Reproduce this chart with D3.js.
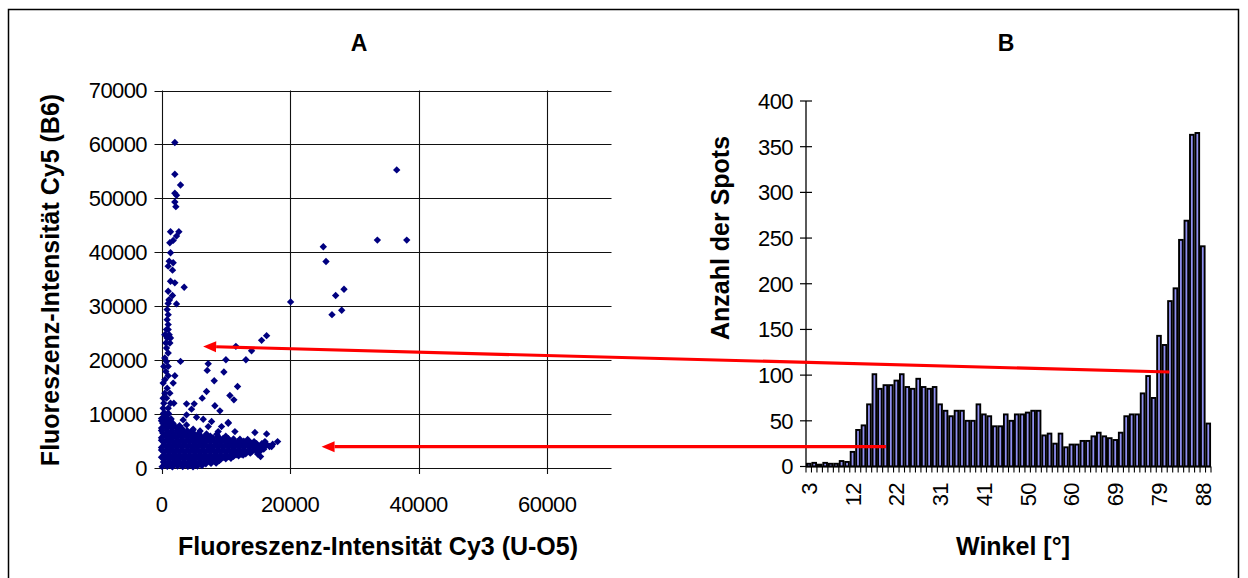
<!DOCTYPE html>
<html>
<head>
<meta charset="utf-8">
<script src="https://cdn.jsdelivr.net/npm/d3@7"></script>
<style>
  body { margin: 0; background: #fff; }
  svg { display: block; }
  text { font-family: "Liberation Sans", Arial, sans-serif; fill: #000; }
</style>
</head>
<body>
<div id="chart"></div>
<script>
// ---- panel A: scatter, [Cy3 (U-O5), Cy5 (B6)] ----
const clusterPoints = [
  [100, 250], [900, 300], [1700, 200], [2500, 350], [3300, 250], [4100, 300], [4900, 200], [5600, 350], [6300, 450],
  [300, 1100], [1100, 1200], [1900, 1050], [2700, 1150], [3500, 1100], [4300, 1200], [5100, 1050], [5900, 1150], [6700, 1100], [7500, 1200], [8300, 1300], [9000, 1400],
  [0, 2000], [800, 2100], [1600, 1950], [2400, 2050], [3200, 2000], [4000, 2100], [4800, 1950], [5600, 2050], [6400, 2000], [7200, 2100], [8000, 1950], [8800, 2050], [9600, 2000], [10400, 2100], [11200, 2150], [12000, 2250], [12700, 2400],
  [400, 2900], [1200, 3000], [2000, 2850], [2800, 2950], [3600, 2900], [4400, 3000], [5200, 2850], [6000, 2950], [6800, 2900], [7600, 3000], [8400, 2850], [9200, 2950], [10000, 2900], [10800, 3000], [11600, 2850], [12400, 2950], [13200, 2950], [14000, 3000], [14800, 3100], [15400, 3200],
  [0, 3800], [800, 3900], [1600, 3750], [2400, 3850], [3200, 3800], [4000, 3900], [4800, 3750], [5600, 3850], [6400, 3800], [7200, 3900], [8000, 3750], [8800, 3850], [9600, 3800], [10400, 3900], [11200, 3750], [12000, 3850], [12800, 3800], [13600, 3900], [14400, 3800], [15200, 3850], [16000, 3900], [16800, 4000],
  [400, 4700], [1200, 4800], [2000, 4650], [2800, 4750], [3600, 4700], [4400, 4800], [5200, 4650], [6000, 4750], [6800, 4700], [7600, 4800], [8400, 4650], [9200, 4750], [10000, 4700], [10800, 4800], [11600, 4650], [12400, 4700], [13200, 4650], [14000, 4600], [14800, 4500], [15600, 4500],
  [0, 5600], [800, 5700], [1600, 5550], [2400, 5650], [3200, 5600], [4000, 5700], [4800, 5550], [5600, 5650], [6400, 5600], [7200, 5700], [8000, 5550], [8800, 5650], [9600, 5500], [10400, 5450], [11200, 5400], [12200, 5350], [13400, 5300],
  [200, 6500], [1000, 6600], [1800, 6450], [2600, 6550], [3400, 6500], [4200, 6600], [5000, 6450], [5800, 6400], [7000, 6300], [8600, 6250],
  [0, 7400], [800, 7500], [1600, 7350], [2400, 7450], [3200, 7300],
  [200, 8300], [1000, 8400], [1800, 8250],
  [0, 9200], [800, 9300], [1500, 9100],
  [300, 10100], [1100, 10000]
];
const clusterFill = [
  [500, 750], [1300, 700], [2100, 800], [2900, 700], [3700, 750], [4500, 800], [5300, 700], [6100, 750], [6900, 800], [7700, 850], [8500, 900],
  [400, 1600], [1200, 1650], [2000, 1550], [2800, 1600], [3600, 1650], [4400, 1550], [5200, 1600], [6000, 1650], [6800, 1550], [7600, 1600], [8400, 1650], [9200, 1600], [10000, 1700], [10800, 1800],
  [400, 2450], [1200, 2500], [2000, 2400], [2800, 2450], [3600, 2500], [4400, 2400], [5200, 2450], [6000, 2500], [6800, 2400], [7600, 2450], [8400, 2500], [9200, 2400], [10000, 2450], [10800, 2500], [11600, 2450], [12400, 2550], [13100, 2650], [13800, 2750],
  [0, 3350], [800, 3400], [1600, 3300], [2400, 3350], [3200, 3400], [4000, 3300], [4800, 3350], [5600, 3400], [6400, 3300], [7200, 3350], [8000, 3400], [8800, 3300], [9600, 3350], [10400, 3400], [11200, 3300], [12000, 3350], [12800, 3400], [13600, 3350], [14400, 3400], [15200, 3450], [15900, 3500],
  [400, 4250], [1200, 4300], [2000, 4200], [2800, 4250], [3600, 4300], [4400, 4200], [5200, 4250], [6000, 4300], [6800, 4200], [7600, 4250], [8400, 4300], [9200, 4200], [10000, 4250], [10800, 4300], [11600, 4200], [12400, 4250], [13200, 4300], [14000, 4200], [14800, 4250], [15600, 4250], [16400, 4300], [17300, 4400],
  [0, 5150], [800, 5200], [1600, 5100], [2400, 5150], [3200, 5200], [4000, 5100], [4800, 5150], [5600, 5200], [6400, 5100], [7200, 5150], [8000, 5200], [8800, 5100], [9600, 5150], [10400, 5100], [11200, 5050], [12000, 5000], [12800, 4950], [13600, 4950], [14400, 4900],
  [400, 6050], [1200, 6100], [2000, 6000], [2800, 6050], [3600, 6100], [4400, 6000], [5200, 6050], [6000, 6000], [6800, 5950], [7600, 5900], [8800, 5850], [10000, 5900],
  [0, 6950], [800, 7000], [1600, 6900], [2400, 6950], [3200, 7000], [4000, 6900], [4800, 6950], [6000, 6850],
  [400, 7850], [1200, 7900], [2000, 7800], [2800, 7850],
  [0, 8750], [700, 8800], [1400, 8700],
  [600, 9650]
];
const edgePoints = [
  [3893, 7990], [4930, 7190], [7270, 7680], [8820, 6750], [10380, 8430], [11420, 6750],
  [14530, 6570], [16350, 6320], [16090, 4900], [18060, 4900], [17130, 3970], [15830, 3780],
  [14950, 2600], [15410, 2110], [3370, 8920], [6490, 9050], [7790, 8610], [9340, 7680]
];
const streakPoints = [
  [519, 10160], [1038, 10160], [260, 11090], [1038, 11090], [363, 12020], [1401, 12020], [1920, 12020],
  [260, 12950], [779, 12950], [519, 13880], [1298, 13880], [882, 14810], [260, 15740], [1817, 15740],
  [519, 16360], [2076, 17100], [1038, 17100], [675, 17910], [363, 18840], [1038, 18840], [779, 19770],
  [519, 20390], [1038, 21320], [779, 22250], [675, 23180], [1298, 23180], [882, 24110], [1401, 24110],
  [519, 24730], [1194, 24730], [779, 25660], [1038, 25660], [1038, 26590], [882, 27510], [1038, 28440],
  [882, 29370], [1038, 30490], [1194, 31230],
  [2335, 30430], [1194, 31110], [1713, 31980], [1038, 32780], [3529, 33530], [2076, 34330], [1401, 34640],
  [1713, 36690], [1038, 37430], [1817, 38050], [1194, 38360], [1401, 39910], [1297, 41770], [1817, 42200],
  [2335, 43000], [1401, 43810], [2700, 43810], [2232, 48460], [2076, 49330], [2335, 50560], [2076, 50940],
  [2958, 52490], [2076, 54470], [2076, 60360]
];
const outlierPoints = [
  [20085, 30800], [25170, 41020], [25590, 38300], [27090, 31980], [28390, 33150], [26520, 28440],
  [28030, 29250], [33580, 42260], [36590, 55280], [38150, 42260],
  [16350, 24540], [15570, 23670], [11570, 22560], [14010, 21750], [10020, 20080], [13130, 20080],
  [2958, 19770], [7266, 19330], [7110, 18100], [9705, 17790], [8200, 16170], [11830, 15120],
  [7006, 14190], [6332, 12950], [10640, 13450], [11260, 12640], [3893, 11900], [5086, 11900],
  [8304, 11530], [9083, 10600], [4671, 10910], [3893, 9853], [5449, 9419], [10380, 8300]
];
const scatterTicks = [0, 10000, 20000, 30000, 40000, 50000, 60000, 70000];
const scatterXTicks = [0, 20000, 40000, 60000];

// ---- panel B: histogram of angles ----
const spotCounts = [
  3, 4, 2, 4, 3, 3, 6, 5,
  16, 40, 45, 68, 101, 85, 89, 89, 94, 101,
  87, 85, 96, 87, 85, 87, 68, 61, 55, 61,
  61, 50, 50, 68, 57, 55, 44, 44, 57, 50,
  57, 57, 59, 61, 61, 34, 36, 25, 36, 21,
  24, 24, 28, 28, 33, 37, 33, 31, 29, 37,
  55, 57, 57, 80, 99, 75, 143, 133, 181, 195,
  248, 269, 363, 365, 241, 47
];
const binLabels = ["3", "12", "22", "31", "41", "50", "60", "69", "79", "88"];
const labelStep = 8;
const countTicks = [0, 50, 100, 150, 200, 250, 300, 350, 400];

// arrows: from a histogram bin (position, count) to a scatter location
const arrows = [
  { bin: 66.4, count: 103.4, cy3: 6475, cy5: 22550 },
  { bin: 14.6, count: 21.7, cy3: 24900, cy5: 3960 }
];

const W = 1248, H = 578;
const svg = d3.select("#chart").append("svg").attr("width", W).attr("height", H);

svg.append("rect")
  .attr("x", 8.5).attr("y", 9.5)
  .attr("width", 1230).attr("height", 575)
  .attr("fill", "none").attr("stroke", "#000").attr("stroke-width", 1.5);

// ===== Panel A =====
const xA = d3.scaleLinear().domain([0, 70000]).range([161.5, 611.5]);
const yA = d3.scaleLinear().domain([0, 70000]).range([468, 90.5]);

const gA = svg.append("g");

gA.selectAll(".hgrid").data(scatterTicks).enter().append("line")
  .attr("x1", xA(0) - 7).attr("x2", xA(70000))
  .attr("y1", (d) => Math.round(yA(d)) + 0.5).attr("y2", (d) => Math.round(yA(d)) + 0.5)
  .attr("stroke", "#111").attr("stroke-width", 1.1);

gA.selectAll(".vgrid").data(scatterXTicks).enter().append("line")
  .attr("x1", (d) => Math.round(xA(d)) + 0.5).attr("x2", (d) => Math.round(xA(d)) + 0.5)
  .attr("y1", yA(70000)).attr("y2", yA(0) + 6)
  .attr("stroke", "#111").attr("stroke-width", 1.1);

gA.selectAll(".ylab").data(scatterTicks).enter().append("text")
  .attr("x", 147).attr("y", (d) => yA(d))
  .attr("dy", "0.36em")
  .attr("text-anchor", "end")
  .style("font-size", "22px")
  .style("letter-spacing", "-0.6px")
  .text((d) => d);

gA.selectAll(".xlab").data(scatterXTicks).enter().append("text")
  .attr("x", (d) => xA(d)).attr("y", 512)
  .attr("text-anchor", "middle")
  .style("font-size", "22px")
  .style("letter-spacing", "-0.6px")
  .text((d) => d);

const diamond = "M0,-3.7L3.7,0L0,3.7L-3.7,0Z";
const allPoints = clusterPoints.concat(clusterFill, edgePoints, streakPoints, outlierPoints);
gA.selectAll(".pt").data(allPoints).enter().append("path")
  .attr("d", diamond)
  .attr("transform", (d) => `translate(${xA(d[0])},${yA(d[1])})`)
  .attr("fill", "#000080");

gA.append("text")
  .attr("x", 359).attr("y", 51)
  .attr("text-anchor", "middle")
  .style("font-size", "23px").style("font-weight", "bold")
  .text("A");

gA.append("text")
  .attr("x", 378).attr("y", 555)
  .attr("text-anchor", "middle")
  .style("font-size", "25px").style("font-weight", "bold")
  .text("Fluoreszenz-Intensität Cy3 (U-O5)");

gA.append("text")
  .attr("transform", "translate(59,280) rotate(-90)")
  .attr("text-anchor", "middle")
  .style("font-size", "25px").style("font-weight", "bold")
  .text("Fluoreszenz-Intensität Cy5 (B6)");

// ===== Panel B =====
const xB = d3.scaleBand().domain(d3.range(spotCounts.length)).range([806, 1211]).padding(0);
const binPos = d3.scaleLinear().domain([0, spotCounts.length]).range([806, 1211]);
const yB = d3.scaleLinear().domain([0, 400]).range([466.5, 101]);
const bw = xB.bandwidth();

const gB = svg.append("g");

gB.selectAll(".bar").data(spotCounts).enter().append("rect")
  .attr("x", (d, i) => xB(i) + 0.9)
  .attr("width", bw - 1.8)
  .attr("y", (d) => yB(d))
  .attr("height", (d) => yB(0) - yB(d))
  .attr("fill", "#9090f0")
  .attr("stroke", "#000")
  .attr("stroke-width", 1.9);

// axes lines
gB.append("line")
  .attr("x1", 806).attr("x2", 806)
  .attr("y1", yB(400)).attr("y2", yB(0))
  .attr("stroke", "#000").attr("stroke-width", 1.3);
gB.append("line")
  .attr("x1", 806).attr("x2", 1211)
  .attr("y1", yB(0)).attr("y2", yB(0))
  .attr("stroke", "#000").attr("stroke-width", 1.3);

gB.selectAll(".ytick").data(countTicks).enter().append("line")
  .attr("x1", 800).attr("x2", 812)
  .attr("y1", (d) => yB(d)).attr("y2", (d) => yB(d))
  .attr("stroke", "#000").attr("stroke-width", 1.2);

gB.selectAll(".xtick").data(d3.range(spotCounts.length + 1)).enter().append("line")
  .attr("x1", (d) => binPos(d)).attr("x2", (d) => binPos(d))
  .attr("y1", yB(0)).attr("y2", yB(0) + 6)
  .attr("stroke", "#000").attr("stroke-width", 1.1);

gB.selectAll(".ylab").data(countTicks).enter().append("text")
  .attr("x", 793).attr("y", (d) => yB(d))
  .attr("dy", "0.36em")
  .attr("text-anchor", "end")
  .style("font-size", "22px")
  .style("letter-spacing", "-0.6px")
  .text((d) => d);

gB.selectAll(".xlab").data(binLabels).enter().append("text")
  .attr("transform", (d, i) => {
    const cx = xB(i * labelStep) + bw / 2 + 8;
    return `translate(${cx},483) rotate(-90)`;
  })
  .attr("text-anchor", "end")
  .style("font-size", "22px")
  .style("letter-spacing", "-0.6px")
  .text((d) => d);

gB.append("text")
  .attr("x", 1006).attr("y", 51)
  .attr("text-anchor", "middle")
  .style("font-size", "23px").style("font-weight", "bold")
  .text("B");

gB.append("text")
  .attr("x", 1013).attr("y", 555)
  .attr("text-anchor", "middle")
  .style("font-size", "25px").style("font-weight", "bold")
  .text("Winkel [°]");

gB.append("text")
  .attr("transform", "translate(729,238) rotate(-90)")
  .attr("text-anchor", "middle")
  .style("font-size", "25px").style("font-weight", "bold")
  .text("Anzahl der Spots");

// ===== red arrows linking B to A =====
const gArrow = svg.append("g");
arrows.forEach((a) => {
  const x1 = binPos(a.bin), y1 = yB(a.count);
  const x2 = xA(a.cy3), y2 = yA(a.cy5);
  const ang = Math.atan2(y2 - y1, x2 - x1);
  const headLen = 13, headW = 5.5;
  const bx = x2 - headLen * Math.cos(ang), by = y2 - headLen * Math.sin(ang);
  gArrow.append("line")
    .attr("x1", x1).attr("y1", y1).attr("x2", bx).attr("y2", by)
    .attr("stroke", "#ff0000").attr("stroke-width", 3.2);
  const px = -Math.sin(ang) * headW, py = Math.cos(ang) * headW;
  gArrow.append("path")
    .attr("d", `M${x2},${y2}L${bx + px},${by + py}L${bx - px},${by - py}Z`)
    .attr("fill", "#ff0000");
});
</script>
</body>
</html>
